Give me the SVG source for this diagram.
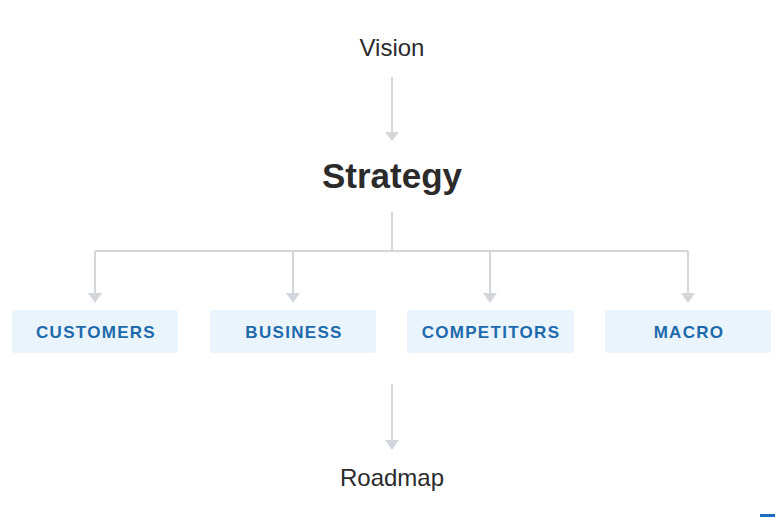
<svg xmlns="http://www.w3.org/2000/svg" width="781" height="517" viewBox="0 0 781 517">
  <defs>
    <style>
      .title { font-family: "Liberation Sans", Arial, sans-serif; fill: #2b2b2b; text-anchor: middle; }
      .box { fill: #e9f4fd; }
      .lbl { font-family: "Liberation Sans", Arial, sans-serif; font-weight: bold; font-size: 17px; fill: #1e6aab; text-anchor: middle; letter-spacing: 1.3px; }
      .conn { stroke: #d3d6db; stroke-width: 2; fill: none; }
      .head { fill: #d3d6db; }
    </style>
  </defs>
  <rect width="781" height="517" fill="#ffffff"/>

  <g id="connectors">
    <path class="conn" d="M392,77 V132"/>
    <path class="conn" d="M392,212 V251"/>
    <path class="conn" d="M95,251 H688"/>
    <path class="conn" d="M95,251 V293"/>
    <path class="conn" d="M293,251 V293"/>
    <path class="conn" d="M490,251 V293"/>
    <path class="conn" d="M688,251 V293"/>
    <path class="conn" d="M392,384 V440"/>
    <path class="head" d="M385,132 L399,132 L392,141 Z"/>
    <path class="head" d="M88,293 L102,293 L95,303 Z"/>
    <path class="head" d="M286,293 L300,293 L293,303 Z"/>
    <path class="head" d="M483,293 L497,293 L490,303 Z"/>
    <path class="head" d="M681,293 L695,293 L688,303 Z"/>
    <path class="head" d="M385,440 L399,440 L392,450 Z"/>
  </g>

  <g id="vision">
    <text class="title" x="392" y="56" font-size="24">Vision</text>
  </g>
  <g id="strategy">
    <text class="title" x="392" y="188" font-size="35" font-weight="bold">Strategy</text>
  </g>
  <g id="customers">
    <rect class="box" x="12" y="310" width="166" height="43" rx="3"/>
    <text class="lbl" x="96" y="338">CUSTOMERS</text>
  </g>
  <g id="business">
    <rect class="box" x="210" y="310" width="166" height="43" rx="3"/>
    <text class="lbl" x="294" y="338">BUSINESS</text>
  </g>
  <g id="competitors">
    <rect class="box" x="407" y="310" width="167" height="43" rx="3"/>
    <text class="lbl" x="491" y="338">COMPETITORS</text>
  </g>
  <g id="macro">
    <rect class="box" x="605" y="310" width="166" height="43" rx="3"/>
    <text class="lbl" x="689" y="338">MACRO</text>
  </g>
  <g id="roadmap">
    <text class="title" x="392" y="486" font-size="24">Roadmap</text>
  </g>
  <rect x="760" y="514" width="15" height="3" fill="#1e6fc0"/>
</svg>
